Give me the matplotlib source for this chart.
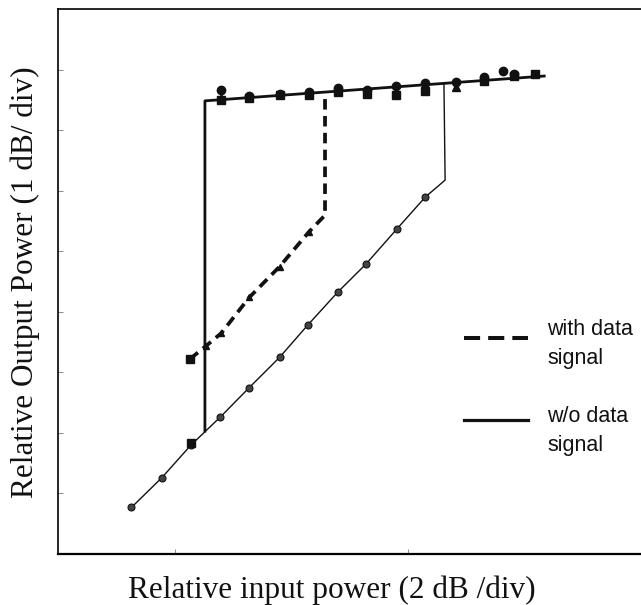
import matplotlib.pyplot as plt

# units: x in div (2 dB/div), y in div (1 dB/div)

# w/o data signal: linear branch, then switch up
lin_x = [1.63, 1.89, 2.14, 2.39, 2.64, 2.90, 3.14, 3.40, 3.64, 3.91, 4.15]
lin_y = [0.77, 1.26, 1.80, 2.26, 2.75, 3.25, 3.78, 4.33, 4.79, 5.38, 5.90]
wo_switch_x = [4.32, 4.31]
wo_switch_y = [6.18, 7.78]

# saturated branch + switch down (thick solid)
sat_x = [2.26, 2.26, 5.17]
sat_y = [2.03, 7.49, 7.90]

# with data signal (dashed)
dash_x = [2.13, 2.27, 2.40, 2.64, 2.90, 3.15, 3.29, 3.29]
dash_y = [3.22, 3.44, 3.65, 4.24, 4.75, 5.32, 5.60, 7.63]

# measured points on the saturated branch
top_circ_x = [2.40, 2.64, 2.90, 3.15, 3.40, 3.65, 3.90, 4.15, 4.41, 4.65, 4.82, 4.91]
top_circ_y = [7.67, 7.57, 7.61, 7.64, 7.70, 7.67, 7.74, 7.79, 7.80, 7.88, 7.98, 7.94]
top_sq_x = [2.40, 2.64, 2.90, 3.15, 3.40, 3.65, 3.90, 4.15, 4.65, 4.91, 5.09]
top_sq_y = [7.51, 7.54, 7.58, 7.59, 7.64, 7.60, 7.58, 7.66, 7.82, 7.90, 7.93]
top_tri_x = [2.40, 3.15, 4.41]
top_tri_y = [7.53, 7.63, 7.72]

# extra points at the low end
low_sq_x = [2.13, 2.14]
low_sq_y = [3.22, 1.84]

fig = plt.figure(figsize=(6.41, 6.05), dpi=100)
ax = fig.add_axes([0.0905, 0.0843, 0.9095, 0.900])

k = '#111111'
ax.plot(lin_x + wo_switch_x, lin_y + wo_switch_y, color=k, lw=1.0)
ax.plot(sat_x, sat_y, color=k, lw=2.0)
ax.plot(dash_x, dash_y, color=k, lw=2.7, dashes=(2.8, 1.7))

ax.plot(lin_x, lin_y, 'o', color=k, ms=5, mfc='#444444', mec=k, mew=0.8)
ax.plot(dash_x[1:6], dash_y[1:6], '^', color=k, ms=5)
ax.plot(low_sq_x, low_sq_y, 's', color=k, ms=6)
ax.plot(top_circ_x, top_circ_y, 'o', color=k, ms=6)
ax.plot(top_sq_x, top_sq_y, 's', color=k, ms=6)
ax.plot(top_tri_x, top_tri_y, '^', color=k, ms=6)

# legend drawn by hand
ax.plot([0.696, 0.806], [0.397, 0.397], transform=ax.transAxes, color=k,
        lw=2.9, dashes=(4, 2), clip_on=False)
ax.plot([0.696, 0.806], [0.246, 0.246], transform=ax.transAxes, color=k,
        lw=2.3, clip_on=False)
lf = dict(family='Liberation Sans', fontsize=15.5, color=k, transform=ax.transAxes)
ax.text(0.839, 0.402, 'with data', va='baseline', **lf)
ax.text(0.839, 0.349, 'signal', va='baseline', **lf)
ax.text(0.839, 0.242, 'w/o data', va='baseline', **lf)
ax.text(0.839, 0.189, 'signal', va='baseline', **lf)

ax.set_xlim(1, 6)
ax.set_ylim(0, 9)
ax.set_xticks([2, 4])
ax.set_yticks([1, 2, 3, 4, 5, 6, 7, 8])
ax.set_xticklabels([])
ax.set_yticklabels([])
ax.tick_params(direction='in', length=3.5, width=0.6, color='#777777')
ax.spines['right'].set_visible(False)
ax.spines['left'].set_linewidth(1.2)
ax.spines['top'].set_linewidth(1.2)
ax.spines['bottom'].set_linewidth(1.6)

fig.text(332 / 641, 7 / 605, 'Relative input power (2 dB /div)', ha='center',
         va='baseline', family='Liberation Serif', fontsize=22.5, color=k)
fig.text(33 / 641, 0.533, 'Relative Output Power (1 dB/ div)', rotation=90,
         rotation_mode='anchor', ha='center', va='baseline',
         family='Liberation Serif', fontsize=22.5, color=k)

fig.savefig('out.png', dpi=100)
